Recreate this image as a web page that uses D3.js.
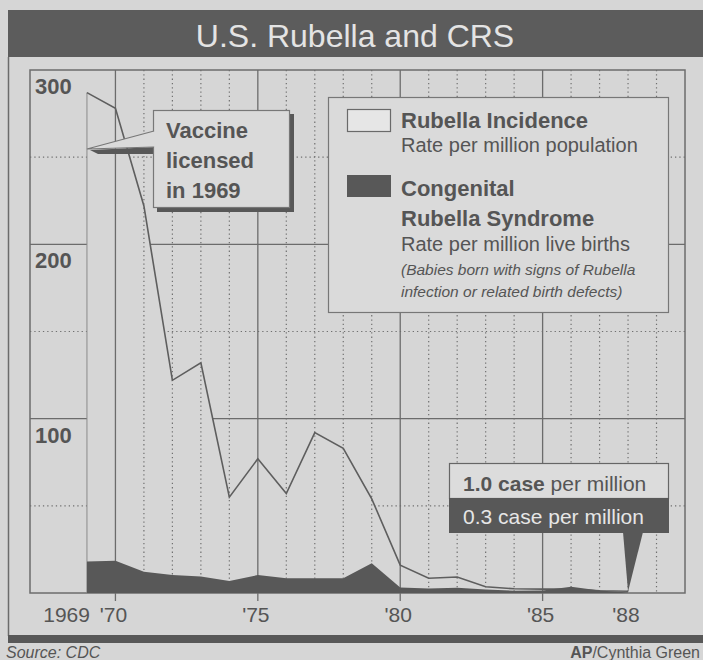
<!DOCTYPE html>
<html>
<head>
<meta charset="utf-8">
<script src="https://cdn.jsdelivr.net/npm/d3@7"></script>
<style>
  html, body { margin: 0; padding: 0; background: #d6d6d6; }
  svg { display: block; font-family: "Liberation Sans", Arial, Helvetica, sans-serif; }
</style>
</head>
<body>
<svg id="chart" width="703" height="660"></svg>
<script>
// Rubella incidence (per million population) and CRS (per million live births), 1969-1988
const years = [1969, 1970, 1971, 1972, 1973, 1974, 1975, 1976, 1977, 1978,
               1979, 1980, 1981, 1982, 1983, 1984, 1985, 1986, 1987, 1988];
const rubellaRate = [287, 278, 222, 122, 132, 55, 77, 57, 92, 83,
                     54, 16, 8.5, 9.2, 3.6, 2.4, 2.2, 2.3, 1.3, 1.0];
const crsRate = [18, 18.5, 12.2, 10.3, 9.4, 6.9, 10.3, 8.4, 8.4, 8.4,
                 17, 3.2, 2.6, 3, 2, 1.3, 1.4, 3.6, 1.4, 0.3];

const yGridSolid = [100, 200];
const yGridDotted = [50, 150, 250];
const yTickLabels = ["100", "200", "300"];
const yTickValues = [100, 200, 300];
const xTickYears = [1969, 1970, 1975, 1980, 1985, 1988];
const xTickText = ["1969", "'70", "'75", "'80", "'85", "'88"];
const xMajorYears = [1970, 1975, 1980, 1985];
const xMinorYears = d3.range(1971, 1990).filter(yr => yr % 5 !== 0);

const C = {
  page: "#d6d6d6",
  dark: "#585858",
  grid: "#6c6c6c",
  text: "#555555",
  light: "#e2e2e2"
};

const svg = d3.select("#chart");
const x = d3.scaleLinear().domain([1967, 1990]).range([30, 685]);
const y = d3.scaleLinear().domain([0, 300]).range([593, 70]);

// page background
svg.append("rect").attr("width", 703).attr("height", 660).attr("fill", C.page);

// title bar
svg.append("rect").attr("x", 8).attr("y", 10).attr("width", 695).attr("height", 47).attr("fill", "#5c5c5c");
svg.append("text").attr("x", 355).attr("y", 47).attr("text-anchor", "middle")
  .attr("font-size", 32).attr("fill", "#e4e4e4").text("U.S. Rubella and CRS");

// panel frame: left rule and bottom band
svg.append("line").attr("x1", 8.5).attr("x2", 8.5).attr("y1", 57).attr("y2", 636)
  .attr("stroke", C.grid).attr("stroke-width", 1.5);
svg.append("rect").attr("x", 8).attr("y", 635).attr("width", 695).attr("height", 8).attr("fill", C.dark);

const plot = svg.append("g");

// horizontal gridlines
plot.selectAll("line.hsolid").data(yGridSolid).join("line")
  .attr("x1", x(1967)).attr("x2", x(1990)).attr("y1", d => y(d)).attr("y2", d => y(d))
  .attr("stroke", C.grid).attr("stroke-width", 1.3);
plot.selectAll("line.hdot").data(yGridDotted).join("line")
  .attr("x1", x(1967)).attr("x2", x(1990)).attr("y1", d => y(d)).attr("y2", d => y(d))
  .attr("stroke", "#707070").attr("stroke-width", 1.2).attr("stroke-dasharray", "1.3,3");

// rubella incidence area (paper-coloured, hides the horizontal rules beneath it)
const rubellaArea = d3.area().x((d, i) => x(years[i])).y0(y(0)).y1(d => y(d));
plot.append("path").datum(rubellaRate).attr("d", rubellaArea).attr("fill", C.page);

// vertical gridlines
plot.selectAll("line.vdot").data(xMinorYears).join("line")
  .attr("x1", d => x(d)).attr("x2", d => x(d)).attr("y1", y(300)).attr("y2", y(0))
  .attr("stroke", "#707070").attr("stroke-width", 1.2).attr("stroke-dasharray", "1.3,3");
plot.selectAll("line.vsolid").data(xMajorYears).join("line")
  .attr("x1", d => x(d)).attr("x2", d => x(d)).attr("y1", y(300)).attr("y2", y(0) + 8)
  .attr("stroke", C.grid).attr("stroke-width", 1.3);

// plot frame
plot.append("rect").attr("x", x(1967)).attr("y", y(300))
  .attr("width", x(1990) - x(1967)).attr("height", y(0) - y(300))
  .attr("fill", "none").attr("stroke", C.grid).attr("stroke-width", 1.5);

// left edge of the incidence area and the incidence line
plot.append("line").attr("x1", x(years[0])).attr("x2", x(years[0]))
  .attr("y1", y(rubellaRate[0])).attr("y2", y(0))
  .attr("stroke", "#8a8a8a").attr("stroke-width", 1);
const rubellaLine = d3.line().x((d, i) => x(years[i])).y(d => y(d));
plot.append("path").datum(rubellaRate).attr("d", rubellaLine)
  .attr("fill", "none").attr("stroke", "#5e5e5e").attr("stroke-width", 1.6)
  .attr("stroke-linejoin", "miter");

// CRS area
const crsArea = d3.area().x((d, i) => x(years[i])).y0(y(0)).y1(d => y(d));
plot.append("path").datum(crsRate).attr("d", crsArea).attr("fill", C.dark);

// y-axis labels sit just under their rules
plot.selectAll("text.ylab").data(yTickValues).join("text")
  .attr("x", 35).attr("y", d => y(d) + 24)
  .attr("font-size", 22).attr("font-weight", "bold").attr("fill", C.text)
  .text((d, i) => yTickLabels[i]);

// x-axis labels
plot.selectAll("text.xlab").data(xTickYears).join("text")
  .attr("x", (d, i) => i === 0 ? x(d) + 3 : x(d) - 2)
  .attr("y", 622)
  .attr("text-anchor", (d, i) => i === 0 ? "end" : "middle")
  .attr("font-size", 21).attr("fill", C.text)
  .text((d, i) => xTickText[i]);

// legend
const lg = svg.append("g");
lg.append("rect").attr("x", 328.5).attr("y", 97.5).attr("width", 340).attr("height", 215)
  .attr("fill", "#dadada").attr("stroke", "#777").attr("stroke-width", 1.2);
lg.append("rect").attr("x", 347.5).attr("y", 109.5).attr("width", 43).attr("height", 22)
  .attr("fill", "#e6e6e6").attr("stroke", "#6a6a6a").attr("stroke-width", 1.2);
lg.append("rect").attr("x", 347).attr("y", 175).attr("width", 44).attr("height", 22).attr("fill", C.dark);
const legendLines = [
  { t: "Rubella Incidence", y: 128, size: 22, weight: "bold", style: "normal" },
  { t: "Rate per million population", y: 152, size: 20, weight: "normal", style: "normal" },
  { t: "Congenital", y: 196, size: 22, weight: "bold", style: "normal" },
  { t: "Rubella Syndrome", y: 226, size: 22, weight: "bold", style: "normal" },
  { t: "Rate per million live births", y: 251, size: 20, weight: "normal", style: "normal" },
  { t: "(Babies born with signs of Rubella", y: 275, size: 15.5, weight: "normal", style: "italic" },
  { t: "infection or related birth defects)", y: 297, size: 15.5, weight: "normal", style: "italic" }
];
lg.selectAll("text").data(legendLines).join("text")
  .attr("x", 401).attr("y", d => d.y)
  .attr("font-size", d => d.size).attr("font-weight", d => d.weight).attr("font-style", d => d.style)
  .attr("fill", C.text).text(d => d.t);

// "Vaccine licensed in 1969" callout
const vc = svg.append("g");
vc.append("rect").attr("x", 157).attr("y", 114).attr("width", 137).attr("height", 98).attr("fill", C.dark);
vc.append("path").attr("d", "M90,150 L156,147 L156,154 L98,154 Z").attr("fill", C.dark);
vc.append("rect").attr("x", 153.5).attr("y", 110.5).attr("width", 136).attr("height", 97)
  .attr("fill", "#dadada").attr("stroke", "#777").attr("stroke-width", 1.2);
vc.append("path").attr("d", "M154,131 L" + x(1969) + ",149 L154,147")
  .attr("fill", "#dadada").attr("stroke", "#777").attr("stroke-width", 1.2);
vc.append("rect").attr("x", 152).attr("y", 132).attr("width", 3).attr("height", 14).attr("fill", "#dadada");
vc.selectAll("text").data(["Vaccine", "licensed", "in 1969"]).join("text")
  .attr("x", 166).attr("y", (d, i) => 138 + i * 30)
  .attr("font-size", 22).attr("font-weight", "bold").attr("fill", C.text).text(d => d);

// 1988 values callout
const last = years.length - 1;
const cb = svg.append("g");
cb.append("rect").attr("x", 449.5).attr("y", 463.5).attr("width", 219).attr("height", 35)
  .attr("fill", "#dcdcdc").attr("stroke", "#666").attr("stroke-width", 1.2);
cb.append("rect").attr("x", 449).attr("y", 498).attr("width", 220).attr("height", 35).attr("fill", C.dark);
cb.append("path").attr("d", "M623,532 L643,532 L" + x(years[last]) + "," + (y(crsRate[last]) - 1) + " Z")
  .attr("fill", C.dark);
const t1 = cb.append("text").attr("x", 463).attr("y", 491).attr("font-size", 21).attr("fill", C.text);
t1.append("tspan").attr("font-weight", "bold").text(d3.format(".1f")(rubellaRate[last]) + " case");
t1.append("tspan").text(" per million");
cb.append("text").attr("x", 463).attr("y", 524).attr("font-size", 21).attr("fill", "#e6e6e6")
  .text(d3.format(".1f")(crsRate[last]) + " case per million");

// credits
svg.append("text").attr("x", 6).attr("y", 658).attr("font-size", 16).attr("font-style", "italic")
  .attr("fill", C.text).text("Source: CDC");
const cr = svg.append("text").attr("x", 700).attr("y", 658).attr("text-anchor", "end")
  .attr("font-size", 16).attr("fill", C.text);
cr.append("tspan").attr("font-weight", "bold").text("AP");
cr.append("tspan").text("/Cynthia Green");
</script>
</body>
</html>
